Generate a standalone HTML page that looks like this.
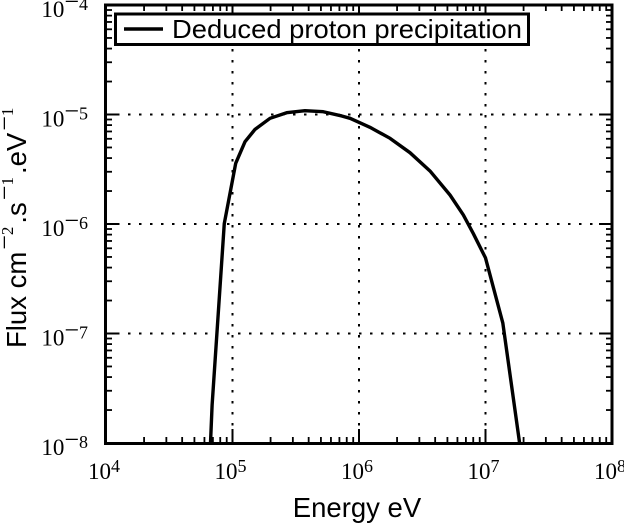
<!DOCTYPE html>
<html>
<head>
<meta charset="utf-8">
<title>Deduced proton precipitation</title>
<style>
html,body{margin:0;padding:0;background:#fff;}
svg{display:block;}
.tick-label{font-family:"Liberation Serif",serif;font-size:23px;fill:#000;}
.axis-title{font-family:"Liberation Sans",sans-serif;font-size:27.5px;fill:#000;}
.legend-text{font-family:"Liberation Sans",sans-serif;font-size:26px;fill:#000;}
.sup-minus{font-family:"Liberation Serif",serif;font-size:26px;}
.sup-digit{font-family:"Liberation Serif",serif;font-size:17px;}
</style>
</head>
<body>
<svg id="chart" width="624" height="524" viewBox="0 0 624 524" xmlns="http://www.w3.org/2000/svg">
<rect x="0" y="0" width="624" height="524" fill="#fff"></rect>
<g id="grid"></g>
<g id="ticks"></g>
<polyline id="series" fill="none" stroke="#000" stroke-width="3.4" stroke-linejoin="round"></polyline>
<rect x="105.5" y="5" width="506.5" height="438.5" fill="none" stroke="#000" stroke-width="3"></rect>
<g id="x-labels"></g>
<g id="y-labels"></g>
<text class="axis-title" x="357" y="517" text-anchor="middle">Energy eV</text>
<text class="axis-title" transform="translate(26,348) rotate(-90)">Flux cm<tspan class="sup-minus" dx="2" dy="-13">−</tspan><tspan class="sup-digit">2</tspan><tspan dx="3" dy="13">.s</tspan><tspan class="sup-minus" dx="2" dy="-13">−</tspan><tspan class="sup-digit">1</tspan><tspan dx="3" dy="13">.eV</tspan><tspan class="sup-minus" dx="2" dy="-13">−</tspan><tspan class="sup-digit">1</tspan></text>
<g>
<rect x="115.5" y="14" width="413" height="30.5" fill="#fff" stroke="#000" stroke-width="3"></rect>
<line x1="124" y1="29" x2="163" y2="29" stroke="#000" stroke-width="3.4"></line>
<text class="legend-text" x="172" y="38" textLength="350" lengthAdjust="spacingAndGlyphs">Deduced proton precipitation</text>
</g>
</svg>
<script>
const energyEv = [6.7e4, 6.9e4, 8.61e4, 1.06e5, 1.256e5, 1.507e5, 1.98e5, 2.68e5, 3.74e5, 5.22e5, 7.3e5, 8.5e5, 1.22e6, 1.76e6, 2.53e6, 3.64e6, 5.24e6, 6.68e6, 8.0e6, 1.0e7, 1.37e7, 1.86e7];
const fluxValues = [1e-8, 2.22e-8, 1.01e-6, 3.58e-6, 5.64e-6, 7.32e-6, 9.23e-6, 1.038e-5, 1.083e-5, 1.06e-5, 9.7e-6, 9.23e-6, 7.64e-6, 6.06e-6, 4.48e-6, 3.05e-6, 1.84e-6, 1.21e-6, 8.2e-7, 4.9e-7, 1.25e-7, 1e-8];
const xTickExponents = [4, 5, 6, 7, 8];
const yTickExponents = [-8, -7, -6, -5, -4];
const minorMultipliers = [2, 3, 4, 5, 6, 7, 8, 9];

const NS = 'http://www.w3.org/2000/svg';
const LEFT = 106, RIGHT = 612, TOP = 5, BOTTOM = 443;
function xScale(v) {
  return LEFT + (Math.log10(v) - 4) / 4 * (RIGHT - LEFT);
}
function yScale(v) {
  return BOTTOM - (Math.log10(v) + 8) / 4 * (BOTTOM - TOP);
}
function addLine(parent, x1, y1, x2, y2, width, dash) {
  const l = document.createElementNS(NS, 'line');
  l.setAttribute('x1', x1);
  l.setAttribute('y1', y1);
  l.setAttribute('x2', x2);
  l.setAttribute('y2', y2);
  l.setAttribute('stroke', '#000');
  l.setAttribute('stroke-width', width);
  if (dash) l.setAttribute('stroke-dasharray', dash);
  parent.appendChild(l);
  return l;
}
function addPowerLabel(parent, x, y, anchor, exponent) {
  const t = document.createElementNS(NS, 'text');
  t.setAttribute('class', 'tick-label');
  t.setAttribute('x', x);
  t.setAttribute('y', y);
  t.setAttribute('text-anchor', anchor);
  t.appendChild(document.createTextNode('10'));
  let dy = '-7';
  if (exponent < 0) {
    const minus = document.createElementNS(NS, 'tspan');
    minus.setAttribute('font-size', '26');
    minus.setAttribute('dy', dy);
    minus.textContent = '−';
    t.appendChild(minus);
    dy = '0';
  }
  const digit = document.createElementNS(NS, 'tspan');
  digit.setAttribute('font-size', '18');
  digit.setAttribute('dy', dy);
  digit.textContent = String(Math.abs(exponent));
  t.appendChild(digit);
  parent.appendChild(t);
  return t;
}

const gridG = document.getElementById('grid');
const ticksG = document.getElementById('ticks');
const xLabels = document.getElementById('x-labels');
const yLabels = document.getElementById('y-labels');

xTickExponents.forEach(function (e, i) {
  const v = Math.pow(10, e);
  const x = xScale(v);
  if (i > 0 && i < xTickExponents.length - 1) {
    const g = addLine(gridG, x, TOP, x, BOTTOM, 2, '2.5 8.5');
    
    
  }
  const a = addLine(ticksG, x, BOTTOM, x, BOTTOM - 14, 2);
  
  
  const b = addLine(ticksG, x, TOP, x, TOP + 9, 2);
  
  
  const lab = addPowerLabel(xLabels, x - 2, 479, 'middle', e);
  
  
  if (i < xTickExponents.length - 1) {
    minorMultipliers.forEach(function (m) {
      const mx = xScale(m * v);
      const c = addLine(ticksG, mx, BOTTOM, mx, BOTTOM - 6, 1.8);
      
      
      const d = addLine(ticksG, mx, TOP, mx, TOP + 6, 1.8);
      
      
    });
  }
});

yTickExponents.forEach(function (e, i) {
  const v = Math.pow(10, e);
  const y = yScale(v);
  if (i > 0 && i < yTickExponents.length - 1) {
    const g = addLine(gridG, LEFT, y, RIGHT, y, 2, '2.5 8.5');
    
    
  }
  const a = addLine(ticksG, LEFT, y, LEFT + 13, y, 2);
  
  
  const b = addLine(ticksG, RIGHT, y, RIGHT - 13, y, 2);
  
  
  const lab = addPowerLabel(yLabels, 88, y + 12, 'end', e);
  
  
  if (i < yTickExponents.length - 1) {
    minorMultipliers.forEach(function (m) {
      const my = yScale(m * v);
      const c = addLine(ticksG, LEFT, my, LEFT + 6, my, 1.8);
      
      
      const d = addLine(ticksG, RIGHT, my, RIGHT - 6, my, 1.8);
      
      
    });
  }
});

document.getElementById('series').setAttribute('points', energyEv.map(function (e, i) {
  return xScale(e).toFixed(2) + ',' + yScale(fluxValues[i]).toFixed(2);
}).join(' '));
</script>
</body>
</html>
